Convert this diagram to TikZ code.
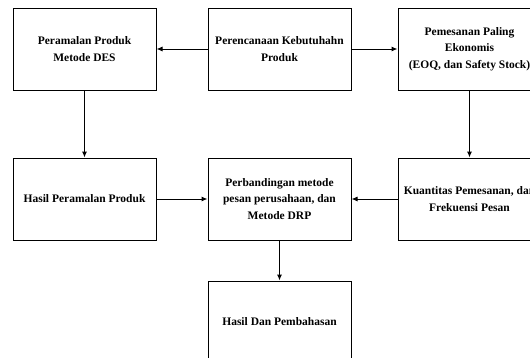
\documentclass[tikz,border=0pt]{standalone}
\usepackage{fontspec}
\setmainfont{Liberation Serif}
\usetikzlibrary{arrows.meta}
\begin{document}
\begin{tikzpicture}[x=1pt,y=-1pt,
  box/.style={draw=black,line width=1pt,minimum width=143pt,minimum height=82pt,inner sep=0pt,
    align=center,font=\fontsize{11.5}{16.5}\selectfont\bfseries},
  arr/.style={line width=1pt,-{Latex[length=6pt,width=5pt]}}]
\useasboundingbox (0,0) rectangle (530,357);
\clip (0,0) rectangle (530,357);
\fill[white] (0,0) rectangle (530,357);
\node[box] (des) at (84.5,49) {Peramalan Produk\\Metode DES};
\node[box] (ren) at (279.5,49) {Perencanaan Kebutuhahn\\Produk};
\node[box] (eoq) at (469.5,49) {Pemesanan Paling\\Ekonomis\\(EOQ, dan Safety Stock)};
\node[box] (has) at (84.5,199) {Hasil Peramalan Produk};
\node[box] (ban) at (279.5,199) {Perbandingan metode\\pesan perusahaan, dan\\Metode DRP};
\node[box] (kua) at (469.5,199) {Kuantitas Pemesanan, dan\\Frekuensi Pesan};
\node[box] (pem) at (279.5,322) {Hasil Dan Pembahasan};
\draw[arr] (ren) -- (des);
\draw[arr] (ren) -- (eoq);
\draw[arr] (des) -- (has);
\draw[arr] (eoq) -- (kua);
\draw[arr] (has) -- (ban);
\draw[arr] (kua) -- (ban);
\draw[arr] (ban) -- (pem);
\end{tikzpicture}
\end{document}
